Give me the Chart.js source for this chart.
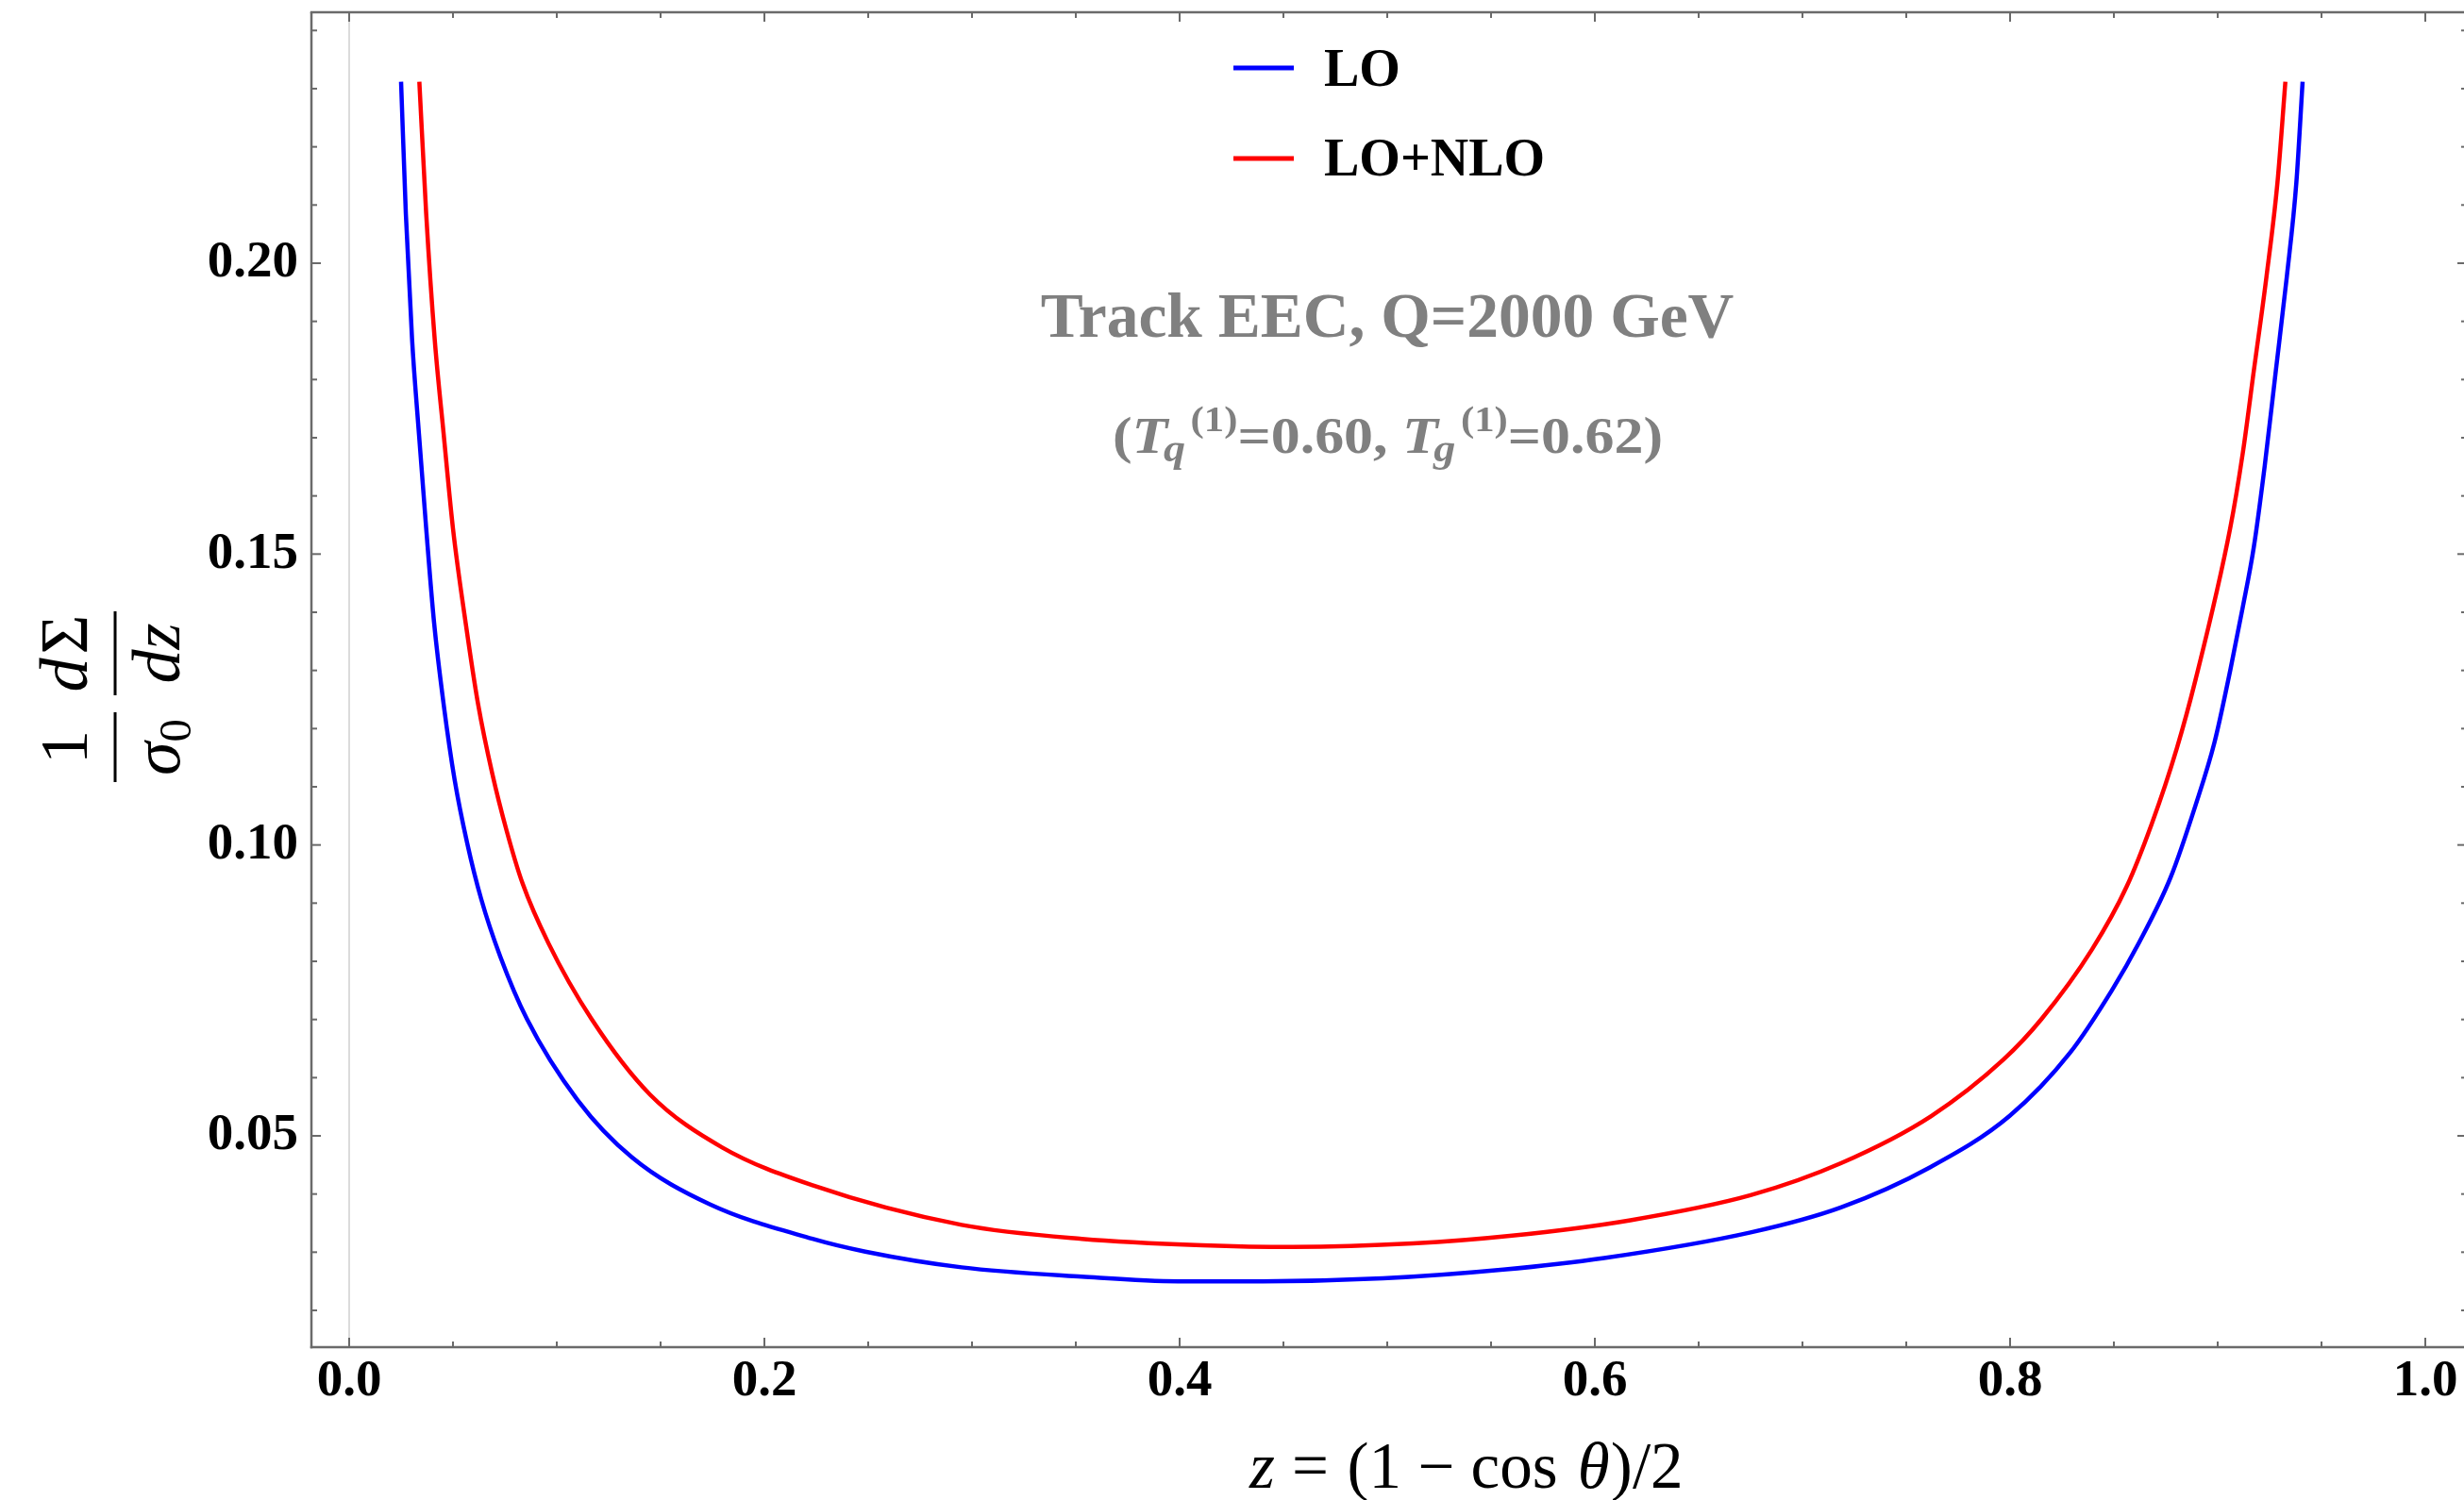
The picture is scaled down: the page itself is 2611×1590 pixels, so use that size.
<!DOCTYPE html>
<html>
<head>
<meta charset="utf-8">
<script src="https://cdn.jsdelivr.net/npm/chart.js@4.4.1/dist/chart.umd.min.js"></script>
<style>
html,body{margin:0;padding:0;background:#fff;overflow:hidden}
#wrap{width:2611px;height:1590px;position:relative;background:#fff}
</style>
</head>
<body>
<div id="wrap"><canvas id="c" width="2611" height="1590"></canvas></div>
<script>
// ---------------- data ----------------
const seriesNames = ['LO', 'LO+NLO'];
const seriesColors = ['#0000ff', '#ff0000'];

const loZ = [0.0250,0.0273,0.0303,0.0336,0.0371,0.0409,0.0455,0.0508,0.0568,0.0636,0.0727,0.0856,
             0.1101,0.1362,0.1739,0.2232,0.2486,0.2950,0.3529,0.3993,0.4399,0.4979,
             0.5559,0.6045,0.6750,0.7185,0.7620,0.7997,0.8287,0.8490,0.8621,0.8773,0.8894,0.8985,
             0.9061,0.9121,0.9174,0.9227,0.9280,0.9333,0.9379,0.9409];
const loV = [0.2312,0.2085,0.1869,0.1707,0.1544,0.1382,0.1242,0.1112,0.1004,0.0907,0.0809,0.0701,
             0.0561,0.0463,0.0382,0.0323,0.0301,0.0274,0.0258,0.0250,0.0250,0.0255,
             0.0270,0.0290,0.0334,0.0377,0.0447,0.0534,0.0642,0.0750,0.0832,0.0944,0.1069,0.1177,
             0.1301,0.1409,0.1512,0.1653,0.1815,0.1977,0.2139,0.2312];

const nloZ = [0.0338,0.0371,0.0412,0.0455,0.0500,0.0561,0.0621,0.0689,0.0758,0.0835,0.0960,0.1167,
              0.1449,0.1797,0.2232,0.2950,0.3529,0.4109,0.4544,0.5124,
              0.5590,0.6171,0.6750,0.7185,0.7620,0.7968,0.8152,0.8394,0.8561,0.8682,0.8803,0.8894,
              0.9060,0.9121,0.9174,0.9235,0.9288,0.9326];
const nloV = [0.2312,0.2085,0.1869,0.1707,0.1544,0.1382,0.1242,0.1123,0.1025,0.0934,0.0831,0.0701,
              0.0571,0.0480,0.0415,0.0347,0.0323,0.0312,0.0309,0.0315,
              0.0328,0.0355,0.0398,0.0453,0.0534,0.0631,0.0701,0.0820,0.0928,0.1036,0.1166,0.1285,
              0.1544,0.1674,0.1815,0.1977,0.2139,0.2312];

const xMajorTicks = [0.0, 0.2, 0.4, 0.6, 0.8, 1.0];
const xTickLabels = ['0.0', '0.2', '0.4', '0.6', '0.8', '1.0'];
const xMinorTicks = [0.05,0.10,0.15,0.25,0.30,0.35,0.45,0.50,0.55,0.65,0.70,0.75,0.85,0.90,0.95];
const yMajorTicks = [0.05, 0.10, 0.15, 0.20];
const yTickLabels = ['0.05', '0.10', '0.15', '0.20'];
const yMinorTicks = [0.02,0.03,0.04,0.06,0.07,0.08,0.09,0.11,0.12,0.13,0.14,0.16,0.17,0.18,0.19,0.21,0.22,0.23,0.24];

const xRange = [-0.018182, 1.018636];
const yRange = [0.013676, 0.243130];

const titleText = 'Track EEC, Q=2000 GeV';
const subtitleParts = [
  {t:'(', kind:'n'}, {t:'T', kind:'i'}, {t:'q', kind:'sub'}, {t:'(1)', kind:'sup'},
  {t:'=0.60, ', kind:'n'}, {t:'T', kind:'i'}, {t:'g', kind:'sub'}, {t:'(1)', kind:'sup'},
  {t:'=0.62)', kind:'n'}
];
const xTitleParts = [
  {t:'z', it:true}, {t:' = ', it:false}, {t:'(1 \u2212 cos\u2009', it:false}, {t:'\u03b8', it:true}, {t:')/2', it:false}
];

// ---------------- drawing helpers ----------------
const SERIF = '"Liberation Serif", "Times New Roman", serif';
const FRAME = '#6a6a6a';

function hline(ctx, x1, y1, x2, y2) { ctx.beginPath(); ctx.moveTo(x1, y1); ctx.lineTo(x2, y2); ctx.stroke(); }

const decorPlugin = {
  id: 'decor',
  beforeDatasetsDraw(chart) {
    const {ctx, chartArea: a, scales: {x}} = chart;
    const px = x.getPixelForValue(0);
    ctx.save();
    ctx.strokeStyle = '#cfcfcf';
    ctx.lineWidth = 1.5;
    hline(ctx, px, a.top, px, a.bottom);
    ctx.restore();
  },
  afterDraw(chart) {
    const {ctx, chartArea: a, scales: {x, y}} = chart;
    ctx.save();
    // frame
    ctx.strokeStyle = FRAME;
    ctx.lineWidth = 2.5;
    hline(ctx, a.left, a.top, a.left, a.bottom + 1.2);
    hline(ctx, a.left - 1.2, a.bottom, a.right, a.bottom);
    hline(ctx, a.left - 1.2, a.top, a.right, a.top);
    const rightX = a.right + 3;
    // ticks
    ctx.lineWidth = 2;
    const MAJ = 10, MIN = 6;
    xMajorTicks.forEach(v => { const p = x.getPixelForValue(v);
      hline(ctx, p, a.bottom, p, a.bottom - MAJ); hline(ctx, p, a.top, p, a.top + MAJ); });
    xMinorTicks.forEach(v => { const p = x.getPixelForValue(v);
      hline(ctx, p, a.bottom, p, a.bottom - MIN); hline(ctx, p, a.top, p, a.top + MIN); });
    yMajorTicks.forEach(v => { const p = y.getPixelForValue(v);
      hline(ctx, a.left, p, a.left + MAJ, p); hline(ctx, rightX, p, rightX - MAJ, p); });
    yMinorTicks.forEach(v => { const p = y.getPixelForValue(v);
      hline(ctx, a.left, p, a.left + MIN, p); hline(ctx, rightX, p, rightX - MIN, p); });

    // legend
    const rows = [{ly: 72, by: 91}, {ly: 168, by: 186}];
    chart.data.datasets.forEach((ds, i) => {
      const r = rows[i];
      ctx.strokeStyle = ds.borderColor;
      ctx.lineWidth = 5;
      hline(ctx, 1307, r.ly, 1371, r.ly);
      ctx.fillStyle = '#000';
      ctx.font = 'bold 56px ' + SERIF;
      ctx.textAlign = 'left';
      ctx.textBaseline = 'alphabetic';
      ctx.fillText(ds.label, 1403, r.by);
    });

    // title
    ctx.fillStyle = '#808080';
    ctx.font = 'bold 67.5px ' + SERIF;
    ctx.textAlign = 'center';
    ctx.textBaseline = 'alphabetic';
    ctx.fillText(titleText, 1470, 357);

    // subtitle (stretched to the reference width)
    const fonts = {
      n: 'bold 55px ' + SERIF, i: 'italic bold 55px ' + SERIF,
      sub: 'italic bold 41px ' + SERIF, sup: 'bold 38px ' + SERIF
    };
    const dys = {n: 0, i: 0, sub: 9, sup: -23};
    const dxs = {n: 0, i: 0, sub: -4, sup: 5};
    let total = 0;
    const widths = subtitleParts.map(p => { ctx.font = fonts[p.kind]; const w = ctx.measureText(p.t).width + dxs[p.kind]; total += w; return w; });
    const subW = 583;
    const k = subW / total;
    ctx.save();
    ctx.translate(1470.5 - subW / 2, 480);
    ctx.scale(k, 1);
    ctx.textAlign = 'left';
    let cx = 0;
    subtitleParts.forEach((p, i) => {
      ctx.font = fonts[p.kind];
      ctx.fillText(p.t, cx + dxs[p.kind], dys[p.kind]);
      cx += widths[i];
    });
    ctx.restore();

    // x-axis title
    ctx.fillStyle = '#000';
    ctx.textAlign = 'left';
    ctx.textBaseline = 'alphabetic';
    const xs = 64;
    let tw = 0;
    const xw = xTitleParts.map(p => { ctx.font = (p.it ? 'italic ' : '') + xs + 'px ' + SERIF; const w = ctx.measureText(p.t).width; tw += w; return w; });
    const target = 462;
    const sc = target / tw;
    let px0 = 1555 - target / 2;
    xTitleParts.forEach((p, i) => {
      ctx.font = (p.it ? 'italic ' : '') + (xs * Math.min(1.08, sc)).toFixed(1) + 'px ' + SERIF;
      ctx.fillText(p.t, px0, 1577);
      px0 += xw[i] * sc;
    });

    // y-axis title: (1/σ0) (dΣ/dz), rotated
    ctx.save();
    ctx.translate(122, 738);
    ctx.rotate(-Math.PI / 2);
    ctx.fillStyle = '#000';
    ctx.fillRect(-91, -1.5, 74, 3);
    ctx.fillRect(1, -1.5, 89, 3);
    const F = 72;
    ctx.textAlign = 'center';
    ctx.font = F + 'px ' + SERIF;
    ctx.fillText('1', -54, -30);
    ctx.font = 'italic ' + F + 'px ' + SERIF;
    const wS = ctx.measureText('\u03c3').width;
    ctx.font = (F * 0.68) + 'px ' + SERIF;
    const w0 = ctx.measureText('0').width;
    const s0 = -54 - (wS + w0) / 2;
    ctx.textAlign = 'left';
    ctx.font = 'italic ' + F + 'px ' + SERIF;
    ctx.fillText('\u03c3', s0, 68);
    ctx.font = (F * 0.68) + 'px ' + SERIF;
    ctx.fillText('0', s0 + wS, 80);
    ctx.font = 'italic ' + F + 'px ' + SERIF;
    const wd = ctx.measureText('d').width;
    ctx.font = F + 'px ' + SERIF;
    const wSig = ctx.measureText('\u03a3').width;
    const s1 = 45.5 - (wd + wSig + 4) / 2;
    ctx.font = 'italic ' + F + 'px ' + SERIF;
    ctx.fillText('d', s1, -30);
    ctx.font = F + 'px ' + SERIF;
    ctx.fillText('\u03a3', s1 + wd + 4, -30);
    ctx.font = 'italic ' + F + 'px ' + SERIF;
    ctx.textAlign = 'center';
    ctx.fillText('dz', 45.5, 68);
    ctx.restore();

    ctx.restore();
  }
};

const ctx = document.getElementById('c').getContext('2d');
new Chart(ctx, {
  type: 'line',
  data: {
    datasets: [
      { label: seriesNames[0], data: loZ.map((z, i) => ({x: z, y: loV[i]})),
        borderColor: seriesColors[0], borderWidth: 4.5, pointRadius: 0, fill: false,
        cubicInterpolationMode: 'monotone' },
      { label: seriesNames[1], data: nloZ.map((z, i) => ({x: z, y: nloV[i]})),
        borderColor: seriesColors[1], borderWidth: 4.5, pointRadius: 0, fill: false,
        cubicInterpolationMode: 'monotone' }
    ]
  },
  options: {
    responsive: false,
    animation: false,
    devicePixelRatio: 1,
    layout: { padding: { left: 0, right: 0, top: 13, bottom: 0 } },
    plugins: { legend: { display: false }, tooltip: { enabled: false }, title: { display: false } },
    scales: {
      x: {
        type: 'linear', position: 'bottom', min: xRange[0], max: xRange[1],
        afterFit(s) { s.height = 162; s.paddingLeft = 0; s.paddingRight = 0; },
        afterBuildTicks(s) { s.ticks = xMajorTicks.map(v => ({value: v})); },
        grid: { display: false, drawTicks: false },
        border: { display: false },
        ticks: { autoSkip: false, maxRotation: 0, padding: 4, color: '#000',
                 font: { family: SERIF, weight: 'bold', size: 55 },
                 callback: (v, i) => xTickLabels[i] }
      },
      y: {
        type: 'linear', position: 'left', min: yRange[0], max: yRange[1],
        afterFit(s) { s.width = 330; s.paddingTop = 0; s.paddingBottom = 0; },
        afterBuildTicks(s) { s.ticks = yMajorTicks.map(v => ({value: v})); },
        grid: { display: false, drawTicks: false },
        border: { display: false },
        ticks: { autoSkip: false, padding: 14, color: '#000',
                 font: { family: SERIF, weight: 'bold', size: 55 },
                 callback: (v, i) => yTickLabels[i] }
      }
    }
  },
  plugins: [decorPlugin]
});
</script>
</body>
</html>
